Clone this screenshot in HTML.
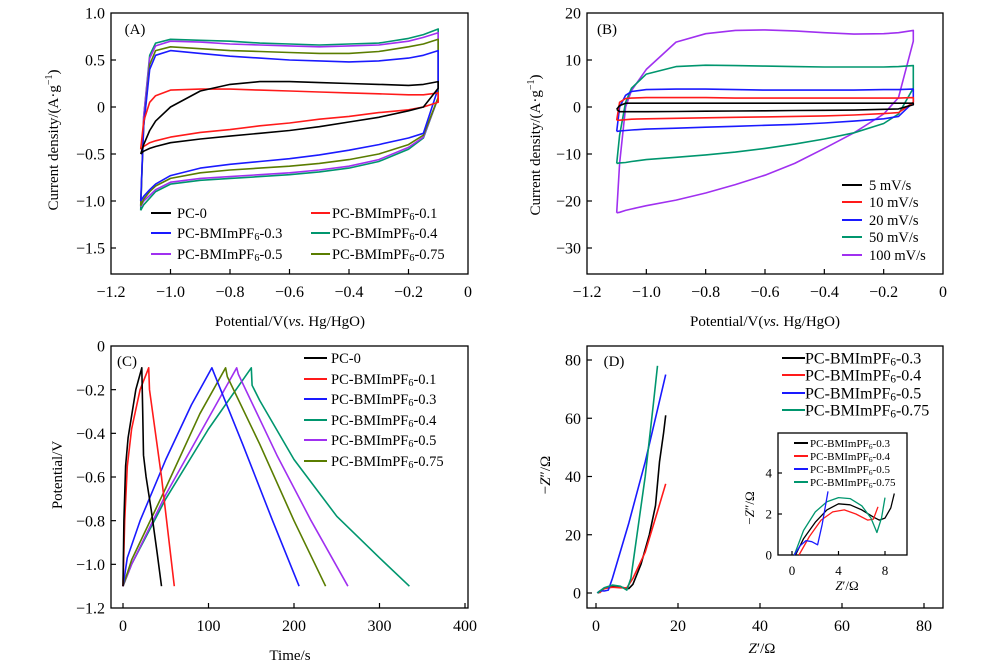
<!DOCTYPE html>
<html><head><meta charset="utf-8"><style>
body{margin:0;background:#fff}
svg{display:block;font-family:"Liberation Serif",serif}
</style></head><body>
<svg id="fig" width="1000" height="669" viewBox="0 0 1000 669"></svg>
<script>
// ---- Panel A data (CV of samples) ----
const aX = [-1.1,-1.09,-1.07,-1.05,-1.0,-0.9,-0.8,-0.7,-0.6,-0.5,-0.4,-0.3,-0.2,-0.15,-0.1];
const aNames = ["PC-0","PC-BMImPF6-0.1","PC-BMImPF6-0.3","PC-BMImPF6-0.4","PC-BMImPF6-0.5","PC-BMImPF6-0.75"];
const aTop0 = [-0.5,-0.4,-0.25,-0.15,0.0,0.17,0.24,0.27,0.27,0.26,0.25,0.24,0.23,0.24,0.27];
const aBot0 = [-0.5,-0.47,-0.44,-0.42,-0.38,-0.34,-0.31,-0.28,-0.25,-0.21,-0.16,-0.11,-0.04,0.0,0.2];
const aTop1 = [-0.45,-0.15,0.05,0.12,0.18,0.19,0.19,0.18,0.17,0.16,0.15,0.14,0.13,0.13,0.15];
const aBot1 = [-0.45,-0.42,-0.38,-0.36,-0.32,-0.27,-0.24,-0.2,-0.17,-0.13,-0.1,-0.06,-0.03,0.0,0.05];
const aTop3 = [-1.0,-0.2,0.4,0.55,0.6,0.57,0.54,0.52,0.5,0.49,0.48,0.49,0.52,0.55,0.6];
const aBot3 = [-1.0,-0.95,-0.88,-0.82,-0.73,-0.65,-0.61,-0.58,-0.55,-0.51,-0.46,-0.4,-0.33,-0.28,0.2];
const aTop4 = [-1.1,-0.1,0.55,0.68,0.72,0.71,0.7,0.68,0.67,0.66,0.67,0.68,0.73,0.77,0.83];
const aBot4 = [-1.1,-1.04,-0.97,-0.9,-0.82,-0.78,-0.76,-0.74,-0.72,-0.69,-0.65,-0.58,-0.45,-0.33,0.1];
const aTop5 = [-1.06,-0.1,0.52,0.65,0.7,0.69,0.67,0.66,0.65,0.64,0.65,0.66,0.7,0.74,0.79];
const aBot5 = [-1.06,-1.0,-0.94,-0.88,-0.8,-0.76,-0.74,-0.72,-0.7,-0.67,-0.63,-0.56,-0.43,-0.32,0.1];
const aTop75 = [-1.05,-0.2,0.45,0.6,0.64,0.62,0.6,0.59,0.58,0.57,0.57,0.59,0.64,0.67,0.72];
const aBot75 = [-1.05,-0.98,-0.9,-0.84,-0.76,-0.7,-0.67,-0.65,-0.63,-0.6,-0.56,-0.5,-0.4,-0.3,0.1];
// ---- Panel B data (scan rates) ----
const bX = [-1.1,-1.09,-1.07,-1.05,-1.0,-0.9,-0.8,-0.7,-0.6,-0.5,-0.4,-0.3,-0.2,-0.15,-0.1];
const bNames = ["5 mV/s","10 mV/s","20 mV/s","50 mV/s","100 mV/s"];
const bTop5 = [-0.5,0.3,0.8,0.8,0.8,0.8,0.8,0.8,0.8,0.8,0.8,0.8,0.8,0.8,0.8];
const bBot5 = [-0.5,-1.0,-1.0,-1.0,-1.0,-0.95,-0.9,-0.85,-0.8,-0.75,-0.7,-0.65,-0.5,-0.4,0.5];
const bTop10 = [-2.8,1.0,1.8,1.9,2.0,2.0,2.0,1.9,1.9,1.9,1.9,1.9,1.9,1.9,2.0];
const bBot10 = [-2.8,-2.8,-2.7,-2.6,-2.5,-2.4,-2.3,-2.2,-2.1,-2.0,-1.9,-1.7,-1.4,-1.2,1.0];
const bTop20 = [-5.2,0,2.5,3.3,3.7,3.8,3.8,3.7,3.6,3.6,3.6,3.6,3.7,3.7,3.8];
const bBot20 = [-5.2,-5.1,-5.0,-4.9,-4.7,-4.5,-4.3,-4.1,-3.9,-3.7,-3.4,-3.0,-2.5,-2.0,1.0];
const bTop50 = [-12,-6,1,4,7,8.6,8.9,8.8,8.7,8.6,8.5,8.5,8.5,8.6,8.8];
const bBot50 = [-12,-11.9,-11.8,-11.6,-11.2,-10.7,-10.2,-9.6,-8.8,-7.9,-6.8,-5.5,-3.5,-1.5,4];
const bTop100 = [-22.5,-12,0,3.5,8,13.8,15.6,16.3,16.4,16.2,15.8,15.5,15.6,15.8,16.3];
const bBot100 = [-22.5,-22.4,-22,-21.7,-21,-19.8,-18.3,-16.5,-14.5,-12.0,-8.8,-5.5,-1.5,2,14];
// ---- Panel C data (GCD) ----
const cT0 = [0,1,3,6,10,15,22,23,24,27,33,40,45];
const cV0 = [-1.1,-0.8,-0.55,-0.42,-0.32,-0.2,-0.1,-0.3,-0.5,-0.6,-0.75,-0.95,-1.1];
const cT1 = [0,2,5,10,20,30,31,45,60];
const cV1 = [-1.1,-0.8,-0.55,-0.38,-0.2,-0.1,-0.2,-0.6,-1.1];
const cT3 = [0,5,20,50,80,104,106,140,175,206];
const cV3 = [-1.1,-0.97,-0.8,-0.52,-0.27,-0.1,-0.12,-0.45,-0.8,-1.1];
const cT4 = [0,10,50,100,150,151,160,200,250,300,335];
const cV4 = [-1.1,-1.0,-0.7,-0.38,-0.1,-0.18,-0.25,-0.52,-0.78,-0.97,-1.1];
const cT5 = [0,10,50,100,133,135,180,220,263];
const cV5 = [-1.1,-1.0,-0.68,-0.33,-0.1,-0.13,-0.5,-0.8,-1.1];
const cT75 = [0,10,50,90,120,122,160,200,237];
const cV75 = [-1.1,-0.98,-0.65,-0.31,-0.1,-0.14,-0.45,-0.8,-1.1];
// ---- Panel D data (Nyquist) ----
const dRe3 = [0.5,2,4,6,8,9,11,13,14.5,15.5,16.5,17];
const dIm3 = [0,1.5,2.2,2,1.5,3,10,20,30,45,55,61];
const dRe4 = [0.8,2,4,6,7.5,9,12,15,17];
const dIm4 = [0,1.5,2,1.8,1.8,5,14,28,37.5];
const dRe5 = [0.3,1,2,3,4,8,12,17];
const dIm5 = [0,0.8,0.7,1,5,24,45,75];
const dRe75 = [0.3,2,4,6,7.5,8.5,10,12,14,15];
const dIm75 = [0,1.8,2.7,2.3,1,5,20,40,65,78];
const iRe3 = [0.3,1,2,3,4,5,6,7,7.5,8,8.5,8.8];
const iIm3 = [0,0.8,1.6,2.2,2.5,2.45,2.2,1.85,1.7,1.8,2.3,3.0];
const iRe4 = [0.6,1.5,2.5,3.5,4.5,5.5,6.5,7,7.4];
const iIm4 = [0,0.9,1.7,2.1,2.2,2.0,1.7,1.75,2.35];
const iRe5 = [0.2,0.7,1.2,1.7,2.2,2.6,3.1];
const iIm5 = [0,0.45,0.7,0.65,0.5,1.5,3.1];
const iRe75 = [0.2,1,2,3,4,5,6,6.8,7.3,7.7,8];
const iIm75 = [0,1.2,2.1,2.6,2.8,2.75,2.4,1.8,1.1,1.8,2.8];
// ---- tick labels ----
const aXTicks = [-1.2,-1.0,-0.8,-0.6,-0.4,-0.2,0];
const aYTicks = [1.0,0.5,0,-0.5,-1.0,-1.5];
const bYTicks = [20,10,0,-10,-20,-30];
const cXTicks = [0,100,200,300,400];
const cYTicks = [0,-0.2,-0.4,-0.6,-0.8,-1.0,-1.2];
const dXTicks = [0,20,40,60,80];
const dYTicks = [0,20,40,60,80];
const iXTicks = [0,4,8];
const iYTicks = [0,2,4];

const NS="http://www.w3.org/2000/svg";
const svg=document.getElementById('fig');
const C={k:"#000",r:"#ff1a1a",b:"#1a1aff",t:"#00966e",p:"#a030f0",o:"#5a7d00"};
function el(tag,attrs,parent){const e=document.createElementNS(NS,tag);for(const k in attrs)e.setAttribute(k,attrs[k]);(parent||svg).appendChild(e);return e;}
function fmt(v,dec){if(Math.abs(v)<1e-9)return "0";let s=v.toFixed(dec);if(v<0)s="\u2212"+s.slice(1);return s;}
function scale(d0,d1,p0,p1){return v=>p0+(v-d0)*(p1-p0)/(d1-d0);}

function panel(name,x0,x1,y0,y1,X,Y,xt,xdec,yt,ydec,fs,tl){
  const g=el('g',{});
  
  
  const fr=el('rect',{x:x0,y:y0,width:x1-x0,height:y1-y0,fill:'none',stroke:'#000','stroke-width':1.3},g);
  
  
  xt.forEach(v=>{const px=X(v);
    if(px>x0+1&&px<x1-1){const t=el('line',{x1:px,x2:px,y1:y1,y2:y1-tl,stroke:'#000','stroke-width':1.2},g);
      }
    const l=el('text',{x:px,y:y1+fs+7,'text-anchor':'middle','font-size':fs},g);l.textContent=fmt(v,xdec);
    });
  yt.forEach(v=>{const py=Y(v);
    if(py>y0+1&&py<y1-1){const t=el('line',{x1:x0,x2:x0+tl,y1:py,y2:py,stroke:'#000','stroke-width':1.2},g);
      }
    const l=el('text',{x:x0-6,y:py+fs*0.35,'text-anchor':'end','font-size':fs},g);l.textContent=fmt(v,ydec);
    });
  return g;
}
function line(g,xs,ys,X,Y,col,name,w){
  const d=xs.map((x,i)=>(i?'L':'M')+X(x).toFixed(1)+','+Y(ys[i]).toFixed(1)).join('');
  const p=el('path',{d:d,fill:'none',stroke:col,'stroke-width':w||1.6,'stroke-linejoin':'round'},g);
  
  
}
function loop(g,xs,top,bot,X,Y,col,name){
  const xx=xs.concat(xs.slice().reverse());const yy=top.concat(bot.slice().reverse());
  line(g,xx,yy,X,Y,col,name);
}
function label(g,txt,x,y,fs,name,rot){
  const t=el('text',{x:x,y:y,'font-size':fs,'text-anchor':'middle'},g);
  if(rot)t.setAttribute('transform','rotate(-90 '+x+' '+y+')');
  t.innerHTML=txt;
  
  
  return t;
}
function legend(g,items,lx0,lx1,tx,ys,fs,name){
  items.forEach((it,i)=>{
    const lg=el('g',{},g);
    
    
    el('line',{x1:lx0,x2:lx1,y1:ys[i],y2:ys[i],stroke:it[1],'stroke-width':2},lg);
    const t=el('text',{x:tx,y:ys[i]+fs*0.35,'font-size':fs},lg);
    t.innerHTML=it[0].replace('PF6','PF<tspan font-size="'+(fs*0.7)+'" dy="2">6</tspan><tspan dy="-2">')+(it[0].indexOf('PF6')>=0?'</tspan>':'');
  });
}

// Panel A
{const X=scale(-1.2,0,111,468),Y=scale(1,-1.5,13,248);
 const g=panel('panel-a-cv-samples',111,468,13,274,X,Y,aXTicks,1,aYTicks,1,16,5);
 const cols=[C.k,C.r,C.b,C.t,C.p,C.o];
 const tops=[aTop0,aTop1,aTop3,aTop4,aTop5,aTop75],bots=[aBot0,aBot1,aBot3,aBot4,aBot5,aBot75];
 [3,4,5,2,1,0].forEach(i=>loop(g,aX,tops[i],bots[i],X,Y,cols[i],'cv-loop-'+aNames[i].toLowerCase()));
 label(g,'(A)',135,34,15,'panel-label-a');
 label(g,'Current density/(A·g<tspan font-size="10" dy="-6">−1</tspan><tspan dy="6">)</tspan>',58,140,15,'y-axis-title',true);
 label(g,'Potential/V(<tspan font-style="italic">vs.</tspan> Hg/HgO)',290,326,15,'x-axis-title');
 const L=el('g',{},g);
 legend(L,[[aNames[0],C.k],[aNames[2],C.b],[aNames[4],C.p]],151,171,177,[213,233,254],14.5,'legend-entry');
 legend(L,[[aNames[1],C.r],[aNames[3],C.t],[aNames[5],C.o]],311,330,332,[213,233,254],14.5,'legend-entry');
}
// Panel B
{const X=scale(-1.2,0,587,943),Y=scale(20,-30,13,248);
 const g=panel('panel-b-cv-scan-rates',587,943,13,274,X,Y,aXTicks,1,bYTicks,0,16,5);
 const cols=[C.k,C.r,C.b,C.t,C.p];
 const tops=[bTop5,bTop10,bTop20,bTop50,bTop100],bots=[bBot5,bBot10,bBot20,bBot50,bBot100];
 [4,3,2,1,0].forEach(i=>loop(g,bX,tops[i],bots[i],X,Y,cols[i],'cv-loop-'+bNames[i].replace(/[ \/]/g,'-')));
 label(g,'(B)',607,34,15,'panel-label-b');
 label(g,'Current density/(A·g<tspan font-size="10" dy="-6">−1</tspan><tspan dy="6">)</tspan>',540,145,15,'y-axis-title',true);
 label(g,'Potential/V(<tspan font-style="italic">vs.</tspan> Hg/HgO)',765,326,15,'x-axis-title');
 legend(g,bNames.map((n,i)=>[n,cols[i]]),842,862,869,[185,202,220,237,255],14.5,'legend-entry');
}
// Panel C
{const X=scale(0,400,123,465),Y=scale(0,-1.2,346,608);
 const g=panel('panel-c-gcd',111,468,346,608,X,Y,cXTicks,0,cYTicks,1,16,5);
 const cols=[C.k,C.r,C.b,C.t,C.p,C.o];
 const ts=[cT0,cT1,cT3,cT4,cT5,cT75],vs=[cV0,cV1,cV3,cV4,cV5,cV75];
 [3,4,5,2,1,0].forEach(i=>line(g,ts[i],vs[i],X,Y,cols[i],'gcd-curve-'+aNames[i].toLowerCase()));
 label(g,'(C)',127,366,15,'panel-label-c');
 label(g,'Potential/V',62,475,15,'y-axis-title',true);
 label(g,'Time/s',290,660,15,'x-axis-title');
 legend(g,aNames.map((n,i)=>[n,cols[i]]),304,327,331,[358,379,399,420,440,461],14.5,'legend-entry');
}
// Panel D
{const X=scale(0,80,596,924),Y=scale(0,80,593,360);
 const g=panel('panel-d-nyquist',587,943,346,608,X,Y,dXTicks,0,dYTicks,0,16,5);
 const cols=[C.k,C.r,C.b,C.t];
 const rs=[dRe3,dRe4,dRe5,dRe75],is=[dIm3,dIm4,dIm5,dIm75];
 const dn=["PC-BMImPF6-0.3","PC-BMImPF6-0.4","PC-BMImPF6-0.5","PC-BMImPF6-0.75"];
 [0,1,2,3].forEach(i=>line(g,rs[i],is[i],X,Y,cols[i],'nyquist-'+dn[i].toLowerCase()));
 label(g,'(D)',614,366,15,'panel-label-d');
 label(g,'−<tspan font-style="italic">Z</tspan>″/Ω',550,475,15,'y-axis-title',true);
 label(g,'<tspan font-style="italic">Z</tspan>′/Ω',762,653,15,'x-axis-title');
 legend(g,dn.map((n,i)=>[n,cols[i]]),782,805,805,[358,375,393,410],16,'legend-entry');
 const IX=scale(0,8,792,885),IY=scale(0,4,555,473);
 const ig=panel('inset-nyquist',778,907,433,555,IX,IY,iXTicks,0,iYTicks,0,13,4);
 const irs=[iRe3,iRe4,iRe5,iRe75],iis=[iIm3,iIm4,iIm5,iIm75];
 [0,1,3,2].forEach(i=>line(ig,irs[i],iis[i],IX,IY,cols[i],'inset-nyquist-'+dn[i].toLowerCase(),1.3));
 legend(ig,dn.map((n,i)=>[n,cols[i]]),794,808,810,[443,456,469,482],11,'inset-legend-entry');
 label(ig,'−<tspan font-style="italic">Z</tspan>″/Ω',754,508,13,'inset-y-axis-title',true);
 label(ig,'<tspan font-style="italic">Z</tspan>′/Ω',847,590,13,'inset-x-axis-title');
}
</script>
</body></html>
